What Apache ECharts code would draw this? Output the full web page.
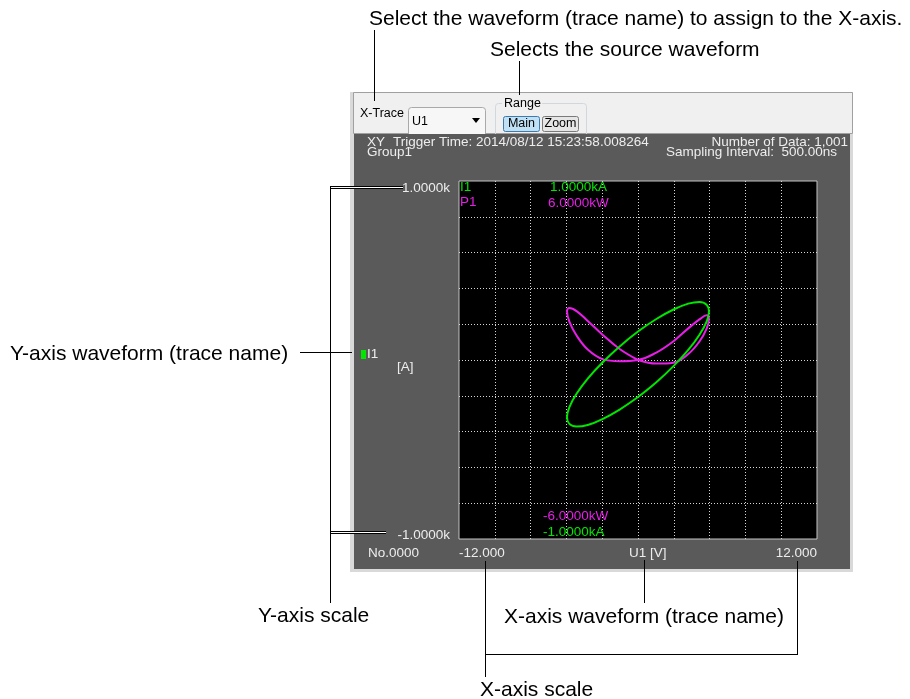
<!DOCTYPE html>
<html>
<head>
<meta charset="utf-8">
<script src="https://cdn.jsdelivr.net/npm/echarts/dist/echarts.min.js"></script>
<style>
html,body{margin:0;padding:0;background:#fff;}
#chart{width:910px;height:699px;}
</style>
</head>
<body>
<div id="chart"></div>
<script>
// ---- data ----
// U1 [V] samples (x-axis waveform), one loop
var uValues = [0, 1.23, 2.38, 3.37, 4.12, 4.60, 4.76, 4.60, 4.12, 3.37, 2.38, 1.23, 0, -1.23, -2.38, -3.37, -4.12, -4.60, -4.76, -4.60, -4.12, -3.37, -2.38, -1.23];
// I1 [A] at the same samples
var i1Values = [-207, -124, -34, 56, 141, 215, 272, 309, 324, 315, 282, 229, 159, 76, -14, -104, -189, -263, -320, -357, -372, -363, -330, -277];
// P1 [kW] at the same samples
var p1Values = [0, -0.12, -0.09, 0.20, 0.62, 1.05, 1.40, 1.50, 1.36, 1.06, 0.63, 0.25, 0, -0.04, 0.03, 0.35, 0.82, 1.29, 1.64, 1.74, 1.64, 1.31, 0.85, 0.37];

var xRange = [-12, 12];
var yRangeI = [-1000, 1000];
var yRangeP = [-6, 6];
var xTickLabels = ['-12.000', '12.000'];
var yTickLabels = ['-1.0000k', '1.0000k'];
var traceNames = ['I1', 'P1'];
var scaleTopLabels = ['1.0000kA', '6.0000kW'];
var scaleBottomLabels = ['-1.0000kA', '-6.0000kW'];

function loop(xs, ys) {
  var out = [];
  for (var k = 0; k < xs.length; k++) out.push([xs[k], ys[k]]);
  out.push([xs[0], ys[0]]);
  return out;
}

var GREEN = '#00e600';
var MAGENTA = '#e61ee6';
var PANEL_TXT = '#ededed';
var PFONT = '13.5px "Liberation Sans", Arial, sans-serif';
var AFONT = '21px "Liberation Sans", Arial, sans-serif';
var TFONT = '12.5px "Liberation Sans", Arial, sans-serif';

function txt(x, y, s, font, fill, align, z) {
  return { type: 'text', z: z || 100, silent: true,
    style: { x: x, y: y, text: s, font: font, fill: fill, textAlign: align || 'left', textVerticalAlign: 'middle' } };
}
function ln(x1, y1, x2, y2, color, w, z) {
  return { type: 'line', z: z || 100, silent: true,
    shape: { x1: x1, y1: y1, x2: x2, y2: y2 }, style: { stroke: color, lineWidth: w || 1 } };
}
function rc(x, y, w, h, fill, stroke, r, z) {
  return { type: 'rect', z: z === undefined ? -50 : z, silent: true,
    shape: { x: x, y: y, width: w, height: h, r: r || 0 },
    style: { fill: fill, stroke: stroke || null, lineWidth: 1 } };
}

var graphics = [
  // window frame, toolbar, dark panel
  rc(350, 92, 503, 480, '#d9d9d9', null, 0, -60),
  rc(353.5, 92.5, 499, 41, '#f0f0f0', '#a0a0a0', 0, -58),
  rc(354, 134, 496, 435, '#5a5a5a', null, 0, -50),
  // toolbar: X-Trace
  txt(360, 113.5, 'X-Trace', TFONT, '#000', 'left', 10),
  rc(408.5, 107.5, 77, 32, '#f7f7f7', '#a9a9a9', 3, -54),
  txt(412, 122, 'U1', TFONT, '#000', 'left', 10),
  { type: 'polygon', z: 10, silent: true, shape: { points: [[472, 118], [480, 118], [476, 123]] }, style: { fill: '#000' } },
  // Range group
  rc(495.5, 103.5, 91, 40, null, '#d0d8de', 3, -54),
  rc(502, 98, 40, 12, '#f0f0f0', null, 0, -53),
  txt(504, 104, 'Range', TFONT, '#000', 'left', 10),
  rc(503.5, 116.5, 36, 15, '#bfe0f5', '#3d7bab', 2, -52),
  txt(521.5, 124, 'Main', TFONT, '#000', 'center', 10),
  rc(542.5, 116.5, 36, 15, '#e6e6e6', '#7a7a7a', 2, -52),
  txt(560.5, 124, 'Zoom', TFONT, '#000', 'center', 10),
  // panel header
  txt(367, 142, 'XY', PFONT, PANEL_TXT),
  txt(393, 142, 'Trigger Time: 2014/08/12 15:23:58.008264', PFONT, PANEL_TXT),
  txt(367, 152, 'Group1', PFONT, PANEL_TXT),
  txt(848, 142, 'Number of Data: 1,001', PFONT, PANEL_TXT, 'right'),
  txt(837, 152, 'Sampling Interval:  500.00ns', PFONT, PANEL_TXT, 'right'),
  // trace labels
  rc(361, 350, 5, 9, GREEN, null, 0, 20),
  txt(367, 354.5, traceNames[0], PFONT, PANEL_TXT),
  txt(397, 367.5, '[A]', PFONT, PANEL_TXT),
  txt(368, 553.5, 'No.0000', PFONT, PANEL_TXT),
  txt(629, 553.5, 'U1 [V]', PFONT, PANEL_TXT),
  // scale labels inside the plot
  txt(460, 187.5, traceNames[0], PFONT, GREEN),
  txt(550, 187.5, scaleTopLabels[0], PFONT, GREEN),
  txt(460, 202.5, traceNames[1], PFONT, MAGENTA),
  txt(548, 203, scaleTopLabels[1], PFONT, MAGENTA),
  txt(543, 516.5, scaleBottomLabels[1], PFONT, MAGENTA),
  txt(543, 532.5, scaleBottomLabels[0], PFONT, GREEN),
  // annotations
  txt(369, 19, 'Select the waveform (trace name) to assign to the X-axis.', AFONT, '#000'),
  ln(374.5, 30, 374.5, 101, '#000', 1),
  txt(490, 50, 'Selects the source waveform', AFONT, '#000'),
  ln(519.5, 61, 519.5, 95, '#000', 1),
  txt(10, 354, 'Y-axis waveform (trace name)', AFONT, '#000'),
  ln(300, 352.5, 352, 352.5, '#000', 1),
  // Y-axis scale bracket
  ln(330.5, 186, 330.5, 603, '#000', 1),
  ln(330, 187.5, 403, 187.5, '#000', 3),
  ln(331, 187.5, 403, 187.5, '#fff', 1),
  ln(330, 532.5, 386, 532.5, '#000', 3),
  ln(331, 532.5, 386, 532.5, '#fff', 1),
  txt(258, 616, 'Y-axis scale', AFONT, '#000'),
  // X-axis waveform
  ln(644.5, 560, 644.5, 603, '#000', 1),
  txt(644, 617, 'X-axis waveform (trace name)', AFONT, '#000', 'center'),
  // X-axis scale bracket
  ln(485.5, 561, 485.5, 677, '#000', 1),
  ln(797.5, 561, 797.5, 654.5, '#000', 1),
  ln(485, 654.5, 798, 654.5, '#000', 1),
  txt(480, 690, 'X-axis scale', AFONT, '#000')
];

var chart = echarts.init(document.getElementById('chart'), null, { renderer: 'canvas' });
var dotted = { color: '#d6d6d6', width: 1, type: [1, 2] };
chart.setOption({
  animation: false,
  backgroundColor: '#ffffff',
  grid: {
    left: 459, top: 181, width: 358, height: 358,
    show: true, backgroundColor: '#000000', borderColor: '#c4c4c4', borderWidth: 1,
    containLabel: false, outerBoundsMode: 'none', z: 0
  },
  xAxis: {
    type: 'value', min: xRange[0], max: xRange[1], interval: 2.4,
    axisLine: { show: false }, axisTick: { show: false },
    splitLine: { show: true, showMinLine: false, showMaxLine: false, lineStyle: dotted },
    axisLabel: {
      show: true, margin: 7, color: PANEL_TXT, fontSize: 13.5,
      fontFamily: '"Liberation Sans", Arial, sans-serif',
      showMinLabel: true, showMaxLabel: true,
      alignMinLabel: 'left', alignMaxLabel: 'right',
      formatter: function (v) {
        if (Math.abs(v - xRange[0]) < 1e-6) return xTickLabels[0];
        if (Math.abs(v - xRange[1]) < 1e-6) return xTickLabels[1];
        return '';
      }
    }
  },
  yAxis: [{
    type: 'value', min: yRangeI[0], max: yRangeI[1], interval: 200,
    axisLine: { show: false }, axisTick: { show: false },
    splitLine: { show: true, showMinLine: false, showMaxLine: false, lineStyle: dotted },
    axisLabel: {
      show: true, margin: 9, color: PANEL_TXT,
      showMinLabel: true, showMaxLabel: true,
      formatter: function (v) {
        if (Math.abs(v - yRangeI[1]) < 1e-6) return '{top|' + yTickLabels[1] + '}';
        if (Math.abs(v - yRangeI[0]) < 1e-6) return '{bot|' + yTickLabels[0] + '}';
        return '';
      },
      rich: {
        top: { color: PANEL_TXT, fontSize: 13.5, fontFamily: '"Liberation Sans", Arial, sans-serif', padding: [14, 0, 0, 0] },
        bot: { color: PANEL_TXT, fontSize: 13.5, fontFamily: '"Liberation Sans", Arial, sans-serif', padding: [0, 0, 7, 0] }
      }
    }
  }, {
    type: 'value', min: yRangeP[0], max: yRangeP[1], interval: 1.2, show: false,
    splitLine: { show: false }
  }],
  series: [{
    name: traceNames[1], type: 'line', yAxisIndex: 1, z: 3,
    data: loop(uValues, p1Values), showSymbol: false, smooth: 0.4,
    lineStyle: { color: MAGENTA, width: 2 }, itemStyle: { color: MAGENTA }
  }, {
    name: traceNames[0], type: 'line', yAxisIndex: 0, z: 4,
    data: loop(uValues, i1Values), showSymbol: false, smooth: 0.4,
    lineStyle: { color: GREEN, width: 2 }, itemStyle: { color: GREEN }
  }],
  graphic: graphics
});
</script>
</body>
</html>
